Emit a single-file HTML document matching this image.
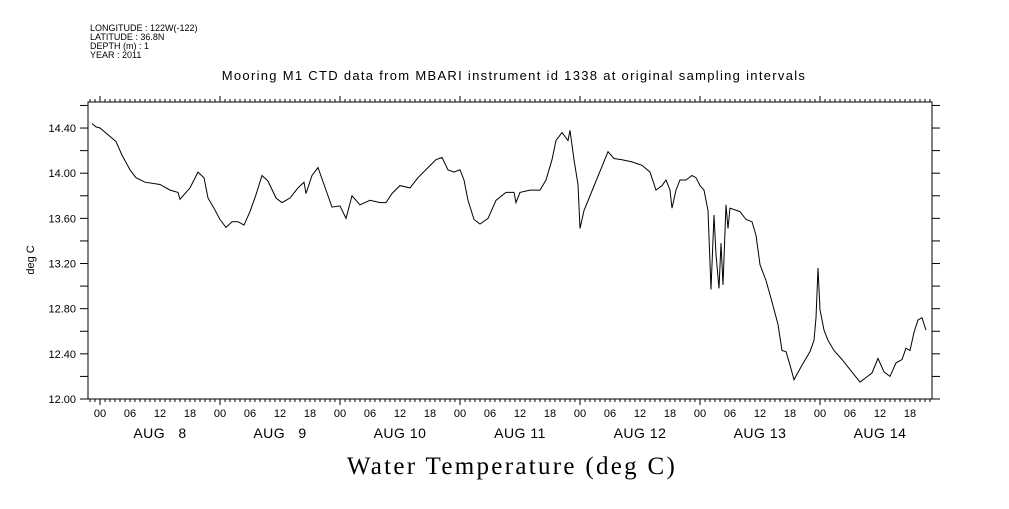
<!DOCTYPE html>
<html><head><meta charset="utf-8"><style>
body{margin:0;background:#fff}
svg text{font-family:"Liberation Sans",sans-serif;fill:#000}
</style></head><body>
<svg id="chart" width="1009" height="504" viewBox="0 0 1009 504" xmlns="http://www.w3.org/2000/svg">
<g font-size="9">
<text x="90" y="31">LONGITUDE : 122W(-122)</text>
<text x="90" y="40">LATITUDE : 36.8N</text>
<text x="90" y="49">DEPTH (m) : 1</text>
<text x="90" y="58">YEAR : 2011</text>
</g>
<text x="514" y="80" font-size="13" letter-spacing="1.3" text-anchor="middle">Mooring M1 CTD data from MBARI instrument id 1338 at original sampling intervals</text>
<text x="512" y="474" font-size="25" letter-spacing="2.3" text-anchor="middle" style="font-family:'Liberation Serif',serif">Water Temperature (deg C)</text>
<text transform="translate(34,260) rotate(-90)" font-size="11" text-anchor="middle">deg C</text>
<rect x="88" y="102" width="844" height="297" fill="none" stroke="#000" stroke-width="1"/>
<g id="axes"></g>
<path id="line" fill="none" stroke="#000" stroke-width="1"/>
</svg>
<script>
const hours=[-1.6,-0.8,0,1.6,3.2,4.4,6,7.2,9,12,14,15.6,16,18,19.6,20.8,21.6,22.8,24,25.2,26.4,27.6,28.8,30,31.2,32.4,33.6,35.2,36.4,38,39.6,40.8,41.2,42.4,43.6,44.8,46.4,48,49.2,50.4,52,54,56,57.2,58.4,60,62,63.6,65.6,67.2,68.4,69.6,70.8,72,72.8,73.6,74.8,76,77.6,79.2,81.2,82.8,83.2,84,86,88,89.2,90.4,91.2,92.4,93.6,94,94.8,95.6,96,96.8,101.6,102.8,104.4,106.4,108.4,110,111.2,112.4,113.2,114,114.4,115.2,116,117.2,118.4,119.2,120,120.8,121.6,122.2,122.8,123.2,123.8,124.2,124.6,125.2,125.6,126,128,129.2,130.4,131.2,132,133.2,134.4,135.6,136.4,137.2,138,138.8,140.4,142,142.8,143.2,143.6,144,144.8,145.6,146.8,148.4,150,152,153.2,154.4,155.6,156.8,158,159.2,160.4,161.2,162,162.8,163.6,164.4,165.2];
const temps=[14.44,14.41,14.40,14.34,14.28,14.16,14.03,13.96,13.92,13.90,13.85,13.83,13.77,13.87,14.01,13.96,13.78,13.69,13.59,13.52,13.57,13.57,13.54,13.66,13.81,13.98,13.93,13.78,13.74,13.78,13.87,13.92,13.82,13.98,14.05,13.90,13.70,13.71,13.60,13.80,13.72,13.76,13.74,13.74,13.82,13.89,13.87,13.96,14.05,14.12,14.14,14.03,14.01,14.03,13.94,13.76,13.59,13.55,13.60,13.76,13.83,13.83,13.74,13.83,13.85,13.85,13.94,14.12,14.29,14.36,14.29,14.38,14.12,13.90,13.51,13.67,14.19,14.13,14.12,14.10,14.07,14.01,13.85,13.89,13.94,13.85,13.69,13.85,13.94,13.94,13.98,13.96,13.89,13.85,13.67,12.97,13.63,13.28,12.98,13.38,13.01,13.72,13.51,13.69,13.66,13.59,13.57,13.45,13.19,13.05,12.86,12.66,12.43,12.42,12.30,12.17,12.30,12.42,12.52,12.72,13.16,12.79,12.61,12.52,12.43,12.35,12.26,12.15,12.19,12.23,12.36,12.24,12.20,12.32,12.35,12.45,12.43,12.59,12.70,12.72,12.61];
const yTicks=["12.00","12.40","12.80","13.20","13.60","14.00","14.40"];
const hourLabels=["00","06","12","18"];
const dayLabels=["AUG  8","AUG  9","AUG 10","AUG 11","AUG 12","AUG 13","AUG 14"];
const X0=88,X1=932,Y0=399,Y1=102;
function xs(h){return 100+h*5;}
function ys(t){return 399-(t-12)*112.9;}
const NS="http://www.w3.org/2000/svg";
const ax=document.getElementById('axes');
function ln(x1,y1,x2,y2){const l=document.createElementNS(NS,'line');l.setAttribute('x1',x1);l.setAttribute('y1',y1);l.setAttribute('x2',x2);l.setAttribute('y2',y2);l.setAttribute('stroke','#000');


ax.appendChild(l);}
function tx(x,y,s,anchor,size,ls){const t=document.createElementNS(NS,'text');t.setAttribute('x',x);t.setAttribute('y',y);t.setAttribute('font-size',size);t.setAttribute('text-anchor',anchor);if(ls)t.setAttribute('letter-spacing',ls);t.textContent=s;


ax.appendChild(t);}
for(let h=-2;h<=166;h+=1){const x=xs(h);if(x<X0||x>X1)continue;
 const day=h%24===0, six=h%6===0;
 ln(x,Y1,x,Y1-(day?6:3));
 ln(x,Y0,x,Y0+(day?6:3));
 if(six){tx(x,417,hourLabels[(h%24)/6],'middle',11);}
}
dayLabels.forEach((d,i)=>{tx(xs(i*24+12),438,d.replace('  ','\u00a0\u00a0\u00a0'),'middle',14,0.5);});
for(let v=12;v<=14.61;v+=0.2){const y=ys(v);ln(X0-8,y,X0,y);ln(X1,y,X1+8,y);}
yTicks.forEach(s=>{tx(X0-12,ys(parseFloat(s))+4,s,'end',11);});
let d='';hours.forEach((h,i)=>{d+=(i?'L':'M')+xs(h).toFixed(1)+','+ys(temps[i]).toFixed(1);});
document.getElementById('line').setAttribute('d',d);
</script>
</body></html>
